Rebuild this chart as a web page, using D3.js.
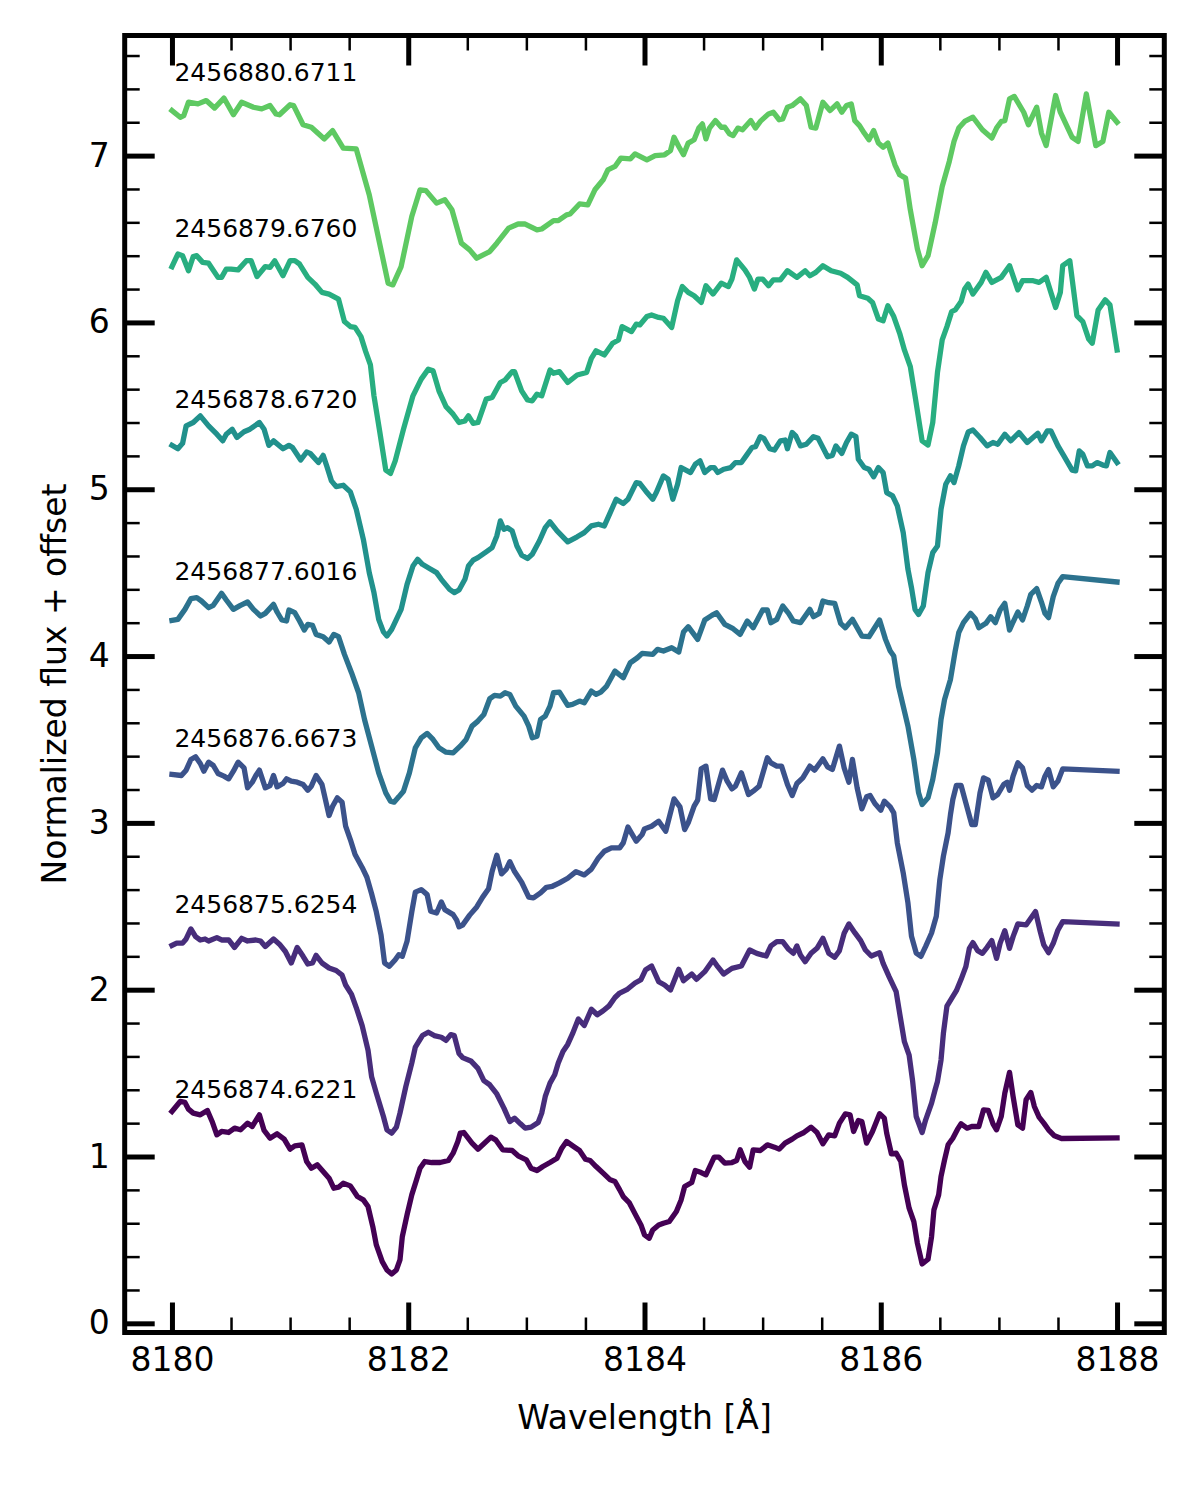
<!DOCTYPE html>
<html><head><meta charset="utf-8">
<script src="https://cdn.jsdelivr.net/npm/d3@7"></script>
<style>
body{margin:0;background:#fff}
svg{display:block}
text{font-family:"DejaVu Sans",sans-serif;fill:#000}
</style>
</head><body>
<svg id="chart" width="1200" height="1500"></svg>
<script>
// ---------- data ----------
const dates = ["2456874.6221","2456875.6254","2456876.6673","2456877.6016","2456878.6720","2456879.6760","2456880.6711"];
const labelFlux = [1.35, 2.46, 3.456, 4.455, 5.49, 6.51, 7.45];

const wave1 = [8180.00,8180.04,8180.07,8180.11,8180.14,8180.18,8180.24,8180.30,8180.34,8180.38,8180.42,8180.48,8180.53,8180.58,8180.64,8180.68,8180.74,8180.78,8180.83,8180.89,8180.95,8181.00,8181.04,8181.10,8181.14,8181.18,8181.23,8181.28,8181.33,8181.37,8181.41,8181.45,8181.51,8181.57,8181.62,8181.66,8181.70,8181.73,8181.78,8181.82,8181.86,8181.90,8181.93,8181.95,8181.99,8182.03,8182.07,8182.10,8182.14,8182.20,8182.27,8182.34,8182.38,8182.42,8182.44,8182.47,8182.54,8182.59,8182.64,8182.70,8182.74,8182.80,8182.88,8182.93,8183.00,8183.04,8183.09,8183.14,8183.20,8183.26,8183.30,8183.34,8183.40,8183.45,8183.50,8183.54,8183.59,8183.65,8183.71,8183.75,8183.79,8183.82,8183.87,8183.92,8183.97,8184.00,8184.04,8184.07,8184.12,8184.16,8184.21,8184.27,8184.31,8184.34,8184.40,8184.43,8184.48,8184.52,8184.59,8184.63,8184.68,8184.74,8184.78,8184.81,8184.85,8184.89,8184.92,8184.98,8185.04,8185.10,8185.14,8185.19,8185.25,8185.29,8185.35,8185.41,8185.46,8185.51,8185.56,8185.61,8185.65,8185.70,8185.74,8185.77,8185.81,8185.84,8185.88,8185.93,8185.99,8186.03,8186.05,8186.09,8186.13,8186.17,8186.20,8186.24,8186.28,8186.31,8186.35,8186.40,8186.43,8186.45,8186.49,8186.51,8186.54,8186.57,8186.61,8186.65,8186.68,8186.73,8186.77,8186.83,8186.87,8186.91,8186.95,8186.98,8187.02,8187.05,8187.09,8187.12,8187.16,8187.20,8187.23,8187.27,8187.30,8187.34,8187.38,8187.42,8187.47,8187.53,8188.00];
const flux1 = [1.27,1.304,1.33,1.324,1.284,1.26,1.25,1.276,1.21,1.13,1.15,1.144,1.17,1.16,1.20,1.18,1.25,1.156,1.11,1.136,1.104,1.044,1.064,1.07,0.97,0.93,0.95,0.91,0.87,0.81,0.816,0.84,0.824,0.76,0.74,0.70,0.58,0.47,0.37,0.32,0.296,0.32,0.38,0.52,0.65,0.77,0.86,0.93,0.97,0.964,0.964,0.976,1.02,1.09,1.14,1.144,1.08,1.044,1.076,1.116,1.10,1.04,1.036,1.004,0.98,0.93,0.916,0.94,0.964,0.99,1.05,1.09,1.06,1.036,0.984,0.976,0.94,0.90,0.86,0.85,0.80,0.76,0.724,0.656,0.59,0.53,0.51,0.56,0.59,0.60,0.61,0.67,0.74,0.82,0.844,0.916,0.904,0.89,0.996,0.996,0.96,0.964,0.976,1.04,0.97,0.936,1.04,1.036,1.07,1.056,1.044,1.08,1.104,1.124,1.144,1.176,1.144,1.076,1.13,1.124,1.20,1.256,1.25,1.15,1.216,1.21,1.08,1.15,1.256,1.23,1.14,1.016,1.02,0.97,0.83,0.69,0.61,0.48,0.356,0.384,0.52,0.68,0.77,0.88,0.98,1.07,1.11,1.164,1.196,1.17,1.18,1.18,1.28,1.276,1.196,1.16,1.24,1.38,1.504,1.36,1.19,1.17,1.34,1.384,1.30,1.236,1.20,1.16,1.124,1.108,1.112];

const wave2 = [8180.00,8180.04,8180.09,8180.12,8180.16,8180.20,8180.24,8180.28,8180.31,8180.38,8180.42,8180.48,8180.53,8180.59,8180.64,8180.71,8180.75,8180.79,8180.86,8180.91,8180.96,8181.01,8181.06,8181.11,8181.15,8181.19,8181.22,8181.27,8181.33,8181.39,8181.44,8181.47,8181.52,8181.56,8181.61,8181.66,8181.69,8181.73,8181.79,8181.82,8181.86,8181.90,8181.93,8181.98,8182.03,8182.06,8182.12,8182.17,8182.22,8182.28,8182.32,8182.36,8182.39,8182.43,8182.46,8182.53,8182.59,8182.64,8182.69,8182.75,8182.81,8182.86,8182.90,8182.95,8182.99,8183.04,8183.10,8183.13,8183.16,8183.20,8183.24,8183.27,8183.31,8183.35,8183.39,8183.44,8183.49,8183.55,8183.60,8183.65,8183.70,8183.75,8183.79,8183.85,8183.92,8183.97,8184.01,8184.06,8184.12,8184.17,8184.22,8184.29,8184.33,8184.40,8184.44,8184.51,8184.58,8184.62,8184.67,8184.74,8184.82,8184.89,8184.95,8185.03,8185.07,8185.12,8185.17,8185.22,8185.26,8185.29,8185.32,8185.36,8185.41,8185.46,8185.51,8185.56,8185.61,8185.65,8185.69,8185.73,8185.78,8185.83,8185.87,8185.92,8185.99,8186.02,8186.07,8186.13,8186.16,8186.20,8186.24,8186.27,8186.30,8186.35,8186.38,8186.43,8186.46,8186.48,8186.51,8186.53,8186.56,8186.60,8186.64,8186.68,8186.72,8186.75,8186.78,8186.82,8186.86,8186.90,8186.94,8186.98,8187.01,8187.05,8187.09,8187.12,8187.16,8187.23,8187.27,8187.31,8187.35,8187.38,8187.42,8187.46,8187.50,8187.54,8188.00];
const flux2 = [2.265,2.279,2.279,2.304,2.364,2.318,2.298,2.304,2.292,2.312,2.298,2.298,2.253,2.308,2.292,2.298,2.292,2.259,2.304,2.273,2.229,2.16,2.253,2.20,2.154,2.16,2.206,2.16,2.13,2.115,2.087,2.028,1.972,1.893,1.785,1.636,1.478,1.38,1.24,1.16,1.14,1.176,1.26,1.42,1.56,1.656,1.725,1.745,1.725,1.715,1.696,1.731,1.725,1.617,1.593,1.573,1.528,1.455,1.43,1.375,1.29,1.21,1.23,1.196,1.17,1.176,1.204,1.26,1.36,1.44,1.49,1.56,1.63,1.672,1.735,1.824,1.785,1.883,1.85,1.874,1.903,1.953,1.98,2.00,2.04,2.06,2.12,2.142,2.048,2.028,1.998,2.122,2.054,2.094,2.062,2.108,2.178,2.138,2.094,2.128,2.142,2.238,2.218,2.202,2.262,2.288,2.288,2.242,2.218,2.262,2.208,2.168,2.218,2.248,2.308,2.218,2.194,2.234,2.338,2.394,2.342,2.294,2.238,2.202,2.222,2.158,2.078,1.988,1.858,1.688,1.608,1.45,1.24,1.144,1.22,1.32,1.40,1.45,1.578,1.738,1.902,1.948,1.994,2.062,2.138,2.248,2.282,2.234,2.218,2.254,2.294,2.188,2.278,2.354,2.248,2.318,2.394,2.388,2.428,2.468,2.348,2.268,2.222,2.278,2.358,2.408,2.394];

const wave3 = [8180.00,8180.08,8180.12,8180.16,8180.20,8180.24,8180.27,8180.31,8180.35,8180.39,8180.44,8180.48,8180.52,8180.56,8180.61,8180.64,8180.68,8180.71,8180.74,8180.79,8180.83,8180.86,8180.89,8180.94,8180.97,8181.01,8181.06,8181.11,8181.15,8181.18,8181.22,8181.27,8181.33,8181.36,8181.40,8181.44,8181.47,8181.51,8181.55,8181.61,8181.65,8181.69,8181.73,8181.77,8181.80,8181.84,8181.89,8181.92,8181.95,8181.99,8182.03,8182.06,8182.11,8182.16,8182.19,8182.24,8182.28,8182.31,8182.38,8182.41,8182.43,8182.46,8182.52,8182.58,8182.63,8182.68,8182.71,8182.75,8182.79,8182.83,8182.86,8182.90,8182.96,8183.02,8183.06,8183.12,8183.17,8183.22,8183.28,8183.35,8183.42,8183.49,8183.55,8183.61,8183.66,8183.72,8183.79,8183.82,8183.86,8183.93,8183.98,8184.00,8184.06,8184.12,8184.18,8184.25,8184.30,8184.34,8184.37,8184.42,8184.45,8184.48,8184.52,8184.56,8184.59,8184.66,8184.70,8184.74,8184.77,8184.82,8184.88,8184.92,8184.97,8185.04,8185.07,8185.12,8185.16,8185.21,8185.25,8185.29,8185.34,8185.40,8185.44,8185.51,8185.55,8185.59,8185.65,8185.69,8185.73,8185.76,8185.80,8185.84,8185.88,8185.91,8185.95,8186.00,8186.03,8186.08,8186.11,8186.14,8186.19,8186.23,8186.26,8186.30,8186.34,8186.38,8186.43,8186.47,8186.50,8186.53,8186.57,8186.59,8186.61,8186.64,8186.68,8186.72,8186.77,8186.80,8186.84,8186.87,8186.91,8186.95,8186.99,8187.04,8187.07,8187.09,8187.12,8187.16,8187.20,8187.24,8187.28,8187.32,8187.36,8187.39,8187.42,8187.46,8187.50,8187.54,8188.00];
const flux3 = [3.29,3.284,3.316,3.38,3.396,3.356,3.31,3.364,3.344,3.296,3.28,3.264,3.31,3.364,3.33,3.21,3.244,3.284,3.316,3.21,3.224,3.284,3.216,3.236,3.264,3.25,3.244,3.23,3.196,3.22,3.284,3.23,3.044,3.10,3.15,3.124,2.98,2.90,2.81,2.733,2.674,2.575,2.466,2.328,2.16,2.14,2.18,2.21,2.20,2.29,2.466,2.585,2.60,2.57,2.47,2.46,2.526,2.48,2.45,2.417,2.377,2.387,2.447,2.496,2.555,2.605,2.708,2.806,2.694,2.723,2.767,2.708,2.644,2.555,2.55,2.58,2.614,2.62,2.64,2.668,2.708,2.688,2.723,2.79,2.83,2.85,2.85,2.88,2.975,2.89,2.93,2.964,2.98,3.01,2.95,3.144,3.096,2.96,3.00,3.10,3.136,3.324,3.34,3.144,3.14,3.316,3.25,3.204,3.22,3.30,3.17,3.19,3.22,3.39,3.36,3.34,3.34,3.23,3.164,3.236,3.27,3.34,3.316,3.384,3.336,3.32,3.46,3.33,3.244,3.38,3.21,3.084,3.156,3.164,3.116,3.076,3.13,3.096,3.06,2.88,2.70,2.52,2.32,2.22,2.20,2.26,2.34,2.44,2.66,2.80,2.94,3.05,3.14,3.224,3.224,3.12,2.99,2.99,3.18,3.27,3.256,3.15,3.17,3.23,3.244,3.196,3.28,3.36,3.33,3.224,3.196,3.224,3.216,3.28,3.32,3.216,3.25,3.324,3.31];

const wave4 = [8180.00,8180.05,8180.11,8180.16,8180.21,8180.25,8180.31,8180.35,8180.42,8180.46,8180.52,8180.58,8180.64,8180.69,8180.75,8180.79,8180.86,8180.89,8180.93,8180.97,8180.99,8181.04,8181.08,8181.12,8181.15,8181.19,8181.22,8181.28,8181.33,8181.37,8181.41,8181.46,8181.52,8181.58,8181.63,8181.69,8181.75,8181.81,8181.85,8181.88,8181.92,8181.96,8182.01,8182.06,8182.11,8182.16,8182.21,8182.26,8182.32,8182.38,8182.44,8182.49,8182.54,8182.59,8182.64,8182.69,8182.73,8182.78,8182.82,8182.86,8182.91,8182.98,8183.02,8183.05,8183.09,8183.12,8183.16,8183.20,8183.23,8183.28,8183.35,8183.39,8183.45,8183.49,8183.55,8183.59,8183.63,8183.68,8183.75,8183.82,8183.88,8183.94,8183.98,8184.07,8184.11,8184.16,8184.23,8184.29,8184.33,8184.37,8184.45,8184.51,8184.57,8184.61,8184.68,8184.75,8184.81,8184.87,8184.92,8185.00,8185.04,8185.07,8185.12,8185.17,8185.22,8185.26,8185.32,8185.40,8185.43,8185.48,8185.51,8185.56,8185.61,8185.66,8185.70,8185.76,8185.84,8185.90,8185.99,8186.04,8186.08,8186.11,8186.15,8186.20,8186.23,8186.28,8186.32,8186.35,8186.40,8186.44,8186.48,8186.51,8186.54,8186.59,8186.63,8186.66,8186.70,8186.76,8186.80,8186.83,8186.89,8186.93,8186.97,8187.01,8187.05,8187.09,8187.12,8187.16,8187.20,8187.24,8187.27,8187.32,8187.36,8187.39,8187.42,8187.46,8187.50,8187.54,8188.00];
const flux4 = [4.214,4.22,4.28,4.344,4.35,4.33,4.29,4.304,4.376,4.336,4.28,4.304,4.324,4.28,4.24,4.256,4.31,4.264,4.216,4.21,4.276,4.26,4.21,4.156,4.19,4.184,4.13,4.116,4.084,4.13,4.116,4.01,3.90,3.78,3.62,3.46,3.30,3.18,3.13,3.124,3.156,3.19,3.30,3.45,3.51,3.536,3.50,3.45,3.424,3.42,3.46,3.50,3.58,3.61,3.65,3.744,3.764,3.76,3.78,3.77,3.70,3.64,3.58,3.51,3.52,3.62,3.64,3.70,3.78,3.784,3.704,3.71,3.73,3.72,3.79,3.77,3.784,3.82,3.91,3.87,3.96,3.99,4.016,4.01,4.04,4.03,4.05,4.024,4.144,4.176,4.10,4.216,4.244,4.26,4.19,4.164,4.13,4.21,4.17,4.276,4.276,4.20,4.22,4.30,4.256,4.21,4.20,4.28,4.236,4.256,4.33,4.32,4.316,4.196,4.17,4.22,4.12,4.116,4.216,4.10,4.03,4.00,3.82,3.67,3.58,3.38,3.18,3.11,3.15,3.26,3.42,3.62,3.74,3.86,4.03,4.14,4.20,4.256,4.224,4.17,4.196,4.236,4.20,4.276,4.316,4.156,4.204,4.264,4.216,4.30,4.37,4.404,4.324,4.256,4.23,4.356,4.436,4.476,4.444];

const wave5 = [8180.00,8180.05,8180.09,8180.12,8180.18,8180.24,8180.31,8180.38,8180.43,8180.46,8180.51,8180.55,8180.61,8180.66,8180.74,8180.78,8180.82,8180.86,8180.94,8180.99,8181.02,8181.09,8181.14,8181.17,8181.24,8181.28,8181.31,8181.35,8181.39,8181.45,8181.51,8181.56,8181.62,8181.67,8181.71,8181.75,8181.79,8181.82,8181.86,8181.94,8181.99,8182.04,8182.08,8182.12,8182.18,8182.24,8182.28,8182.35,8182.39,8182.43,8182.48,8182.51,8182.55,8182.59,8182.66,8182.71,8182.75,8182.78,8182.81,8182.84,8182.88,8182.92,8182.96,8183.01,8183.05,8183.11,8183.16,8183.20,8183.26,8183.35,8183.43,8183.49,8183.55,8183.61,8183.66,8183.71,8183.76,8183.82,8183.86,8183.93,8183.96,8184.01,8184.07,8184.10,8184.16,8184.20,8184.24,8184.28,8184.31,8184.39,8184.43,8184.47,8184.51,8184.56,8184.59,8184.62,8184.67,8184.73,8184.77,8184.82,8184.86,8184.91,8184.94,8184.98,8185.01,8185.06,8185.10,8185.15,8185.19,8185.21,8185.25,8185.28,8185.32,8185.37,8185.43,8185.47,8185.55,8185.59,8185.62,8185.67,8185.71,8185.75,8185.79,8185.81,8185.86,8185.90,8185.94,8185.98,8186.02,8186.05,8186.10,8186.14,8186.19,8186.23,8186.26,8186.29,8186.32,8186.36,8186.40,8186.44,8186.48,8186.51,8186.55,8186.59,8186.62,8186.66,8186.70,8186.74,8186.78,8186.84,8186.90,8186.95,8186.99,8187.05,8187.10,8187.17,8187.24,8187.33,8187.36,8187.41,8187.44,8187.50,8187.55,8187.62,8187.65,8187.68,8187.71,8187.75,8187.79,8187.83,8187.88,8187.91,8187.94,8188.00];
const flux5 = [5.263,5.243,5.275,5.38,5.40,5.44,5.38,5.33,5.29,5.33,5.36,5.31,5.345,5.36,5.40,5.36,5.263,5.29,5.243,5.263,5.25,5.175,5.223,5.215,5.16,5.203,5.14,5.05,5.016,5.024,4.984,4.88,4.70,4.50,4.38,4.22,4.145,4.12,4.16,4.28,4.43,4.54,4.58,4.55,4.525,4.50,4.46,4.40,4.38,4.396,4.46,4.54,4.575,4.59,4.625,4.65,4.72,4.81,4.76,4.77,4.75,4.66,4.605,4.585,4.61,4.69,4.77,4.805,4.75,4.685,4.715,4.74,4.78,4.79,4.78,4.86,4.94,4.915,4.94,5.04,5.035,4.99,4.94,4.98,5.08,5.06,4.94,5.03,5.13,5.10,5.15,5.17,5.10,5.13,5.13,5.10,5.12,5.13,5.16,5.16,5.20,5.25,5.255,5.315,5.305,5.243,5.235,5.29,5.295,5.243,5.34,5.32,5.26,5.27,5.315,5.305,5.195,5.203,5.26,5.215,5.28,5.33,5.315,5.18,5.13,5.12,5.075,5.13,5.10,4.98,4.96,4.90,4.74,4.52,4.41,4.28,4.25,4.30,4.50,4.62,4.66,4.88,5.03,5.08,5.04,5.14,5.26,5.343,5.355,5.31,5.26,5.28,5.27,5.33,5.29,5.34,5.28,5.335,5.29,5.35,5.35,5.26,5.20,5.115,5.11,5.23,5.21,5.14,5.14,5.16,5.145,5.14,5.22,5.16];

const wave6 = [8180.00,8180.05,8180.09,8180.14,8180.18,8180.21,8180.26,8180.31,8180.39,8180.42,8180.46,8180.50,8180.56,8180.63,8180.67,8180.72,8180.79,8180.83,8180.87,8180.94,8181.00,8181.04,8181.08,8181.15,8181.21,8181.27,8181.33,8181.41,8181.46,8181.51,8181.55,8181.60,8181.64,8181.68,8181.71,8181.76,8181.81,8181.85,8181.89,8181.96,8182.04,8182.11,8182.17,8182.21,8182.26,8182.32,8182.38,8182.43,8182.48,8182.51,8182.55,8182.59,8182.66,8182.71,8182.78,8182.82,8182.88,8182.90,8182.96,8183.01,8183.05,8183.09,8183.13,8183.20,8183.23,8183.28,8183.35,8183.43,8183.51,8183.55,8183.59,8183.66,8183.73,8183.78,8183.81,8183.89,8183.93,8183.96,8184.02,8184.06,8184.12,8184.16,8184.23,8184.28,8184.32,8184.37,8184.42,8184.48,8184.52,8184.58,8184.65,8184.71,8184.74,8184.78,8184.85,8184.89,8184.93,8184.96,8185.00,8185.05,8185.09,8185.15,8185.21,8185.29,8185.36,8185.40,8185.45,8185.51,8185.58,8185.66,8185.72,8185.80,8185.82,8185.89,8185.93,8185.98,8186.02,8186.06,8186.11,8186.16,8186.20,8186.25,8186.29,8186.35,8186.40,8186.44,8186.48,8186.52,8186.56,8186.60,8186.63,8186.68,8186.71,8186.74,8186.78,8186.85,8186.89,8186.94,8187.02,8187.09,8187.16,8187.20,8187.29,8187.34,8187.40,8187.48,8187.52,8187.54,8187.60,8187.66,8187.71,8187.76,8187.79,8187.84,8187.90,8187.94,8188.00];
const flux6 = [6.334,6.41,6.40,6.31,6.395,6.40,6.36,6.355,6.27,6.27,6.32,6.32,6.315,6.37,6.37,6.275,6.335,6.33,6.37,6.28,6.37,6.37,6.35,6.27,6.23,6.18,6.17,6.14,6.005,5.975,5.97,5.915,5.825,5.745,5.56,5.34,5.115,5.095,5.17,5.36,5.56,5.66,5.72,5.71,5.59,5.495,5.45,5.40,5.41,5.44,5.395,5.40,5.54,5.55,5.64,5.655,5.705,5.705,5.59,5.535,5.53,5.57,5.56,5.715,5.695,5.705,5.64,5.685,5.70,5.785,5.83,5.805,5.875,5.895,5.975,5.945,5.99,5.985,6.035,6.045,6.03,6.025,5.97,6.13,6.215,6.18,6.16,6.12,6.22,6.17,6.235,6.215,6.26,6.375,6.315,6.27,6.20,6.26,6.26,6.22,6.255,6.255,6.31,6.27,6.31,6.28,6.30,6.34,6.31,6.295,6.27,6.225,6.16,6.145,6.12,6.02,6.01,6.10,6.035,5.935,5.835,5.735,5.56,5.29,5.265,5.40,5.70,5.895,5.975,6.065,6.075,6.125,6.20,6.23,6.17,6.24,6.30,6.24,6.27,6.34,6.195,6.25,6.25,6.24,6.27,6.09,6.18,6.34,6.37,6.04,6.005,5.90,5.875,6.075,6.135,6.105,5.835];

const wave7 = [8180.00,8180.07,8180.10,8180.14,8180.22,8180.29,8180.36,8180.44,8180.52,8180.59,8180.69,8180.76,8180.83,8180.88,8180.91,8181.00,8181.03,8181.11,8181.18,8181.29,8181.36,8181.45,8181.56,8181.67,8181.83,8181.87,8181.94,8182.03,8182.10,8182.15,8182.24,8182.31,8182.37,8182.45,8182.52,8182.58,8182.69,8182.75,8182.85,8182.93,8182.99,8183.09,8183.13,8183.23,8183.27,8183.34,8183.37,8183.45,8183.52,8183.58,8183.65,8183.69,8183.75,8183.80,8183.88,8183.92,8184.02,8184.09,8184.17,8184.22,8184.25,8184.29,8184.33,8184.37,8184.42,8184.46,8184.49,8184.52,8184.55,8184.60,8184.65,8184.68,8184.72,8184.75,8184.79,8184.83,8184.90,8184.94,8184.98,8185.05,8185.09,8185.14,8185.17,8185.21,8185.25,8185.32,8185.37,8185.41,8185.45,8185.51,8185.57,8185.63,8185.67,8185.71,8185.75,8185.78,8185.82,8185.86,8185.90,8185.94,8185.98,8186.02,8186.06,8186.12,8186.16,8186.21,8186.25,8186.31,8186.35,8186.40,8186.46,8186.52,8186.58,8186.62,8186.66,8186.71,8186.78,8186.86,8186.94,8186.98,8187.02,8187.05,8187.09,8187.13,8187.21,8187.25,8187.32,8187.36,8187.40,8187.48,8187.52,8187.62,8187.67,8187.74,8187.82,8187.88,8187.93,8188.00];
const flux7 = [7.27,7.23,7.24,7.32,7.31,7.33,7.285,7.345,7.245,7.32,7.29,7.28,7.30,7.25,7.245,7.305,7.30,7.185,7.17,7.10,7.15,7.045,7.04,6.765,6.235,6.225,6.335,6.635,6.795,6.79,6.715,6.735,6.675,6.475,6.435,6.385,6.425,6.475,6.565,6.59,6.59,6.555,6.56,6.61,6.61,6.645,6.65,6.71,6.705,6.795,6.855,6.915,6.935,6.985,6.98,7.01,6.975,7.00,7.005,7.03,7.11,7.055,7.005,7.075,7.095,7.165,7.19,7.10,7.165,7.21,7.17,7.17,7.13,7.12,7.165,7.155,7.21,7.165,7.205,7.25,7.26,7.215,7.22,7.29,7.30,7.34,7.30,7.17,7.165,7.32,7.27,7.31,7.26,7.30,7.31,7.21,7.18,7.135,7.095,7.15,7.075,7.05,7.075,6.945,6.885,6.865,6.675,6.44,6.34,6.40,6.595,6.815,6.965,7.085,7.165,7.205,7.23,7.155,7.105,7.165,7.205,7.21,7.34,7.355,7.26,7.185,7.29,7.135,7.06,7.36,7.26,7.11,7.085,7.37,7.06,7.085,7.26,7.20];

const waves = [wave1, wave2, wave3, wave4, wave5, wave6, wave7];
const fluxes = [flux1, flux2, flux3, flux4, flux5, flux6, flux7];

const xMajor = [8180, 8182, 8184, 8186, 8188];
const xMinor = [8180.5, 8181, 8181.5, 8182.5, 8183, 8183.5, 8184.5, 8185, 8185.5, 8186.5, 8187, 8187.5];
const yMajor = [0, 1, 2, 3, 4, 5, 6, 7];
const yMinor = [0.2,0.4,0.6,0.8,1.2,1.4,1.6,1.8,2.2,2.4,2.6,2.8,3.2,3.4,3.6,3.8,4.2,4.4,4.6,4.8,5.2,5.4,5.6,5.8,6.2,6.4,6.6,6.8,7.2,7.4,7.6];

// ---------- drawing ----------
const L = 124.7, R = 1164.3, T = 35.5, B = 1332.5;
const svg = d3.select("#chart");
const x = d3.scaleLinear().domain([8179.6, 8188.4]).range([L, R]);
const y = d3.scaleLinear().domain([-0.055, 7.72]).range([B, T]);

const line = d3.line().x(d => x(d[0])).y(d => y(d[1]));
const gLines = svg.append("g");
waves.forEach((w, i) => {
  const pts = w.map((v, k) => [v, fluxes[i][k]]);
  gLines.append("path")
    .attr("d", line(pts))
    .attr("fill", "none")
    .attr("stroke", d3.interpolateViridis(i / 8))
    .attr("stroke-width", 5.3)
    .attr("stroke-linejoin", "round")
    .attr("stroke-linecap", "square");
  svg.append("text")
    .attr("x", x(8180) + 2.5)
    .attr("y", y(labelFlux[i]))
    .attr("font-size", 25)
    .text(dates[i]);
});

function styleAxis(g, w) {
  g.select(".domain").remove();
  g.selectAll(".tick line").attr("stroke", "#000").attr("stroke-width", w);
  g.selectAll(".tick text").attr("font-size", 33).attr("font-family", "DejaVu Sans").attr("fill", "#000");
}
// bottom
svg.append("g").attr("transform", `translate(0,${B})`)
  .call(d3.axisBottom(x).tickValues(xMajor).tickSizeInner(-30).tickSizeOuter(0).tickPadding(15).tickFormat(d3.format("d")))
  .call(g => styleAxis(g, 5));
svg.append("g").attr("transform", `translate(0,${B})`)
  .call(d3.axisBottom(x).tickValues(xMinor).tickSizeInner(-15).tickSizeOuter(0).tickFormat(""))
  .call(g => styleAxis(g, 2.5));
// top
svg.append("g").attr("transform", `translate(0,${T})`)
  .call(d3.axisTop(x).tickValues(xMajor).tickSizeInner(-30).tickSizeOuter(0).tickFormat(""))
  .call(g => styleAxis(g, 5));
svg.append("g").attr("transform", `translate(0,${T})`)
  .call(d3.axisTop(x).tickValues(xMinor).tickSizeInner(-15).tickSizeOuter(0).tickFormat(""))
  .call(g => styleAxis(g, 2.5));
// left
svg.append("g").attr("transform", `translate(${L},0)`)
  .call(d3.axisLeft(y).tickValues(yMajor).tickSizeInner(-30).tickSizeOuter(0).tickPadding(15).tickFormat(d3.format("d")))
  .call(g => styleAxis(g, 5));
svg.append("g").attr("transform", `translate(${L},0)`)
  .call(d3.axisLeft(y).tickValues(yMinor).tickSizeInner(-15).tickSizeOuter(0).tickFormat(""))
  .call(g => styleAxis(g, 2.5));
// right
svg.append("g").attr("transform", `translate(${R},0)`)
  .call(d3.axisRight(y).tickValues(yMajor).tickSizeInner(-30).tickSizeOuter(0).tickFormat(""))
  .call(g => styleAxis(g, 5));
svg.append("g").attr("transform", `translate(${R},0)`)
  .call(d3.axisRight(y).tickValues(yMinor).tickSizeInner(-15).tickSizeOuter(0).tickFormat(""))
  .call(g => styleAxis(g, 2.5));

// frame
svg.append("rect").attr("x", L).attr("y", T).attr("width", R - L).attr("height", B - T)
  .attr("fill", "none").attr("stroke", "#000").attr("stroke-width", 5);

// axis labels
svg.append("text").attr("x", (L + R) / 2).attr("y", 1429).attr("text-anchor", "middle")
  .attr("font-size", 33).text("Wavelength [Å]");
svg.append("text").attr("transform", `translate(65.5,${(T + B) / 2}) rotate(-90)`)
  .attr("text-anchor", "middle").attr("font-size", 33).text("Normalized flux + offset");
</script>
</body></html>
